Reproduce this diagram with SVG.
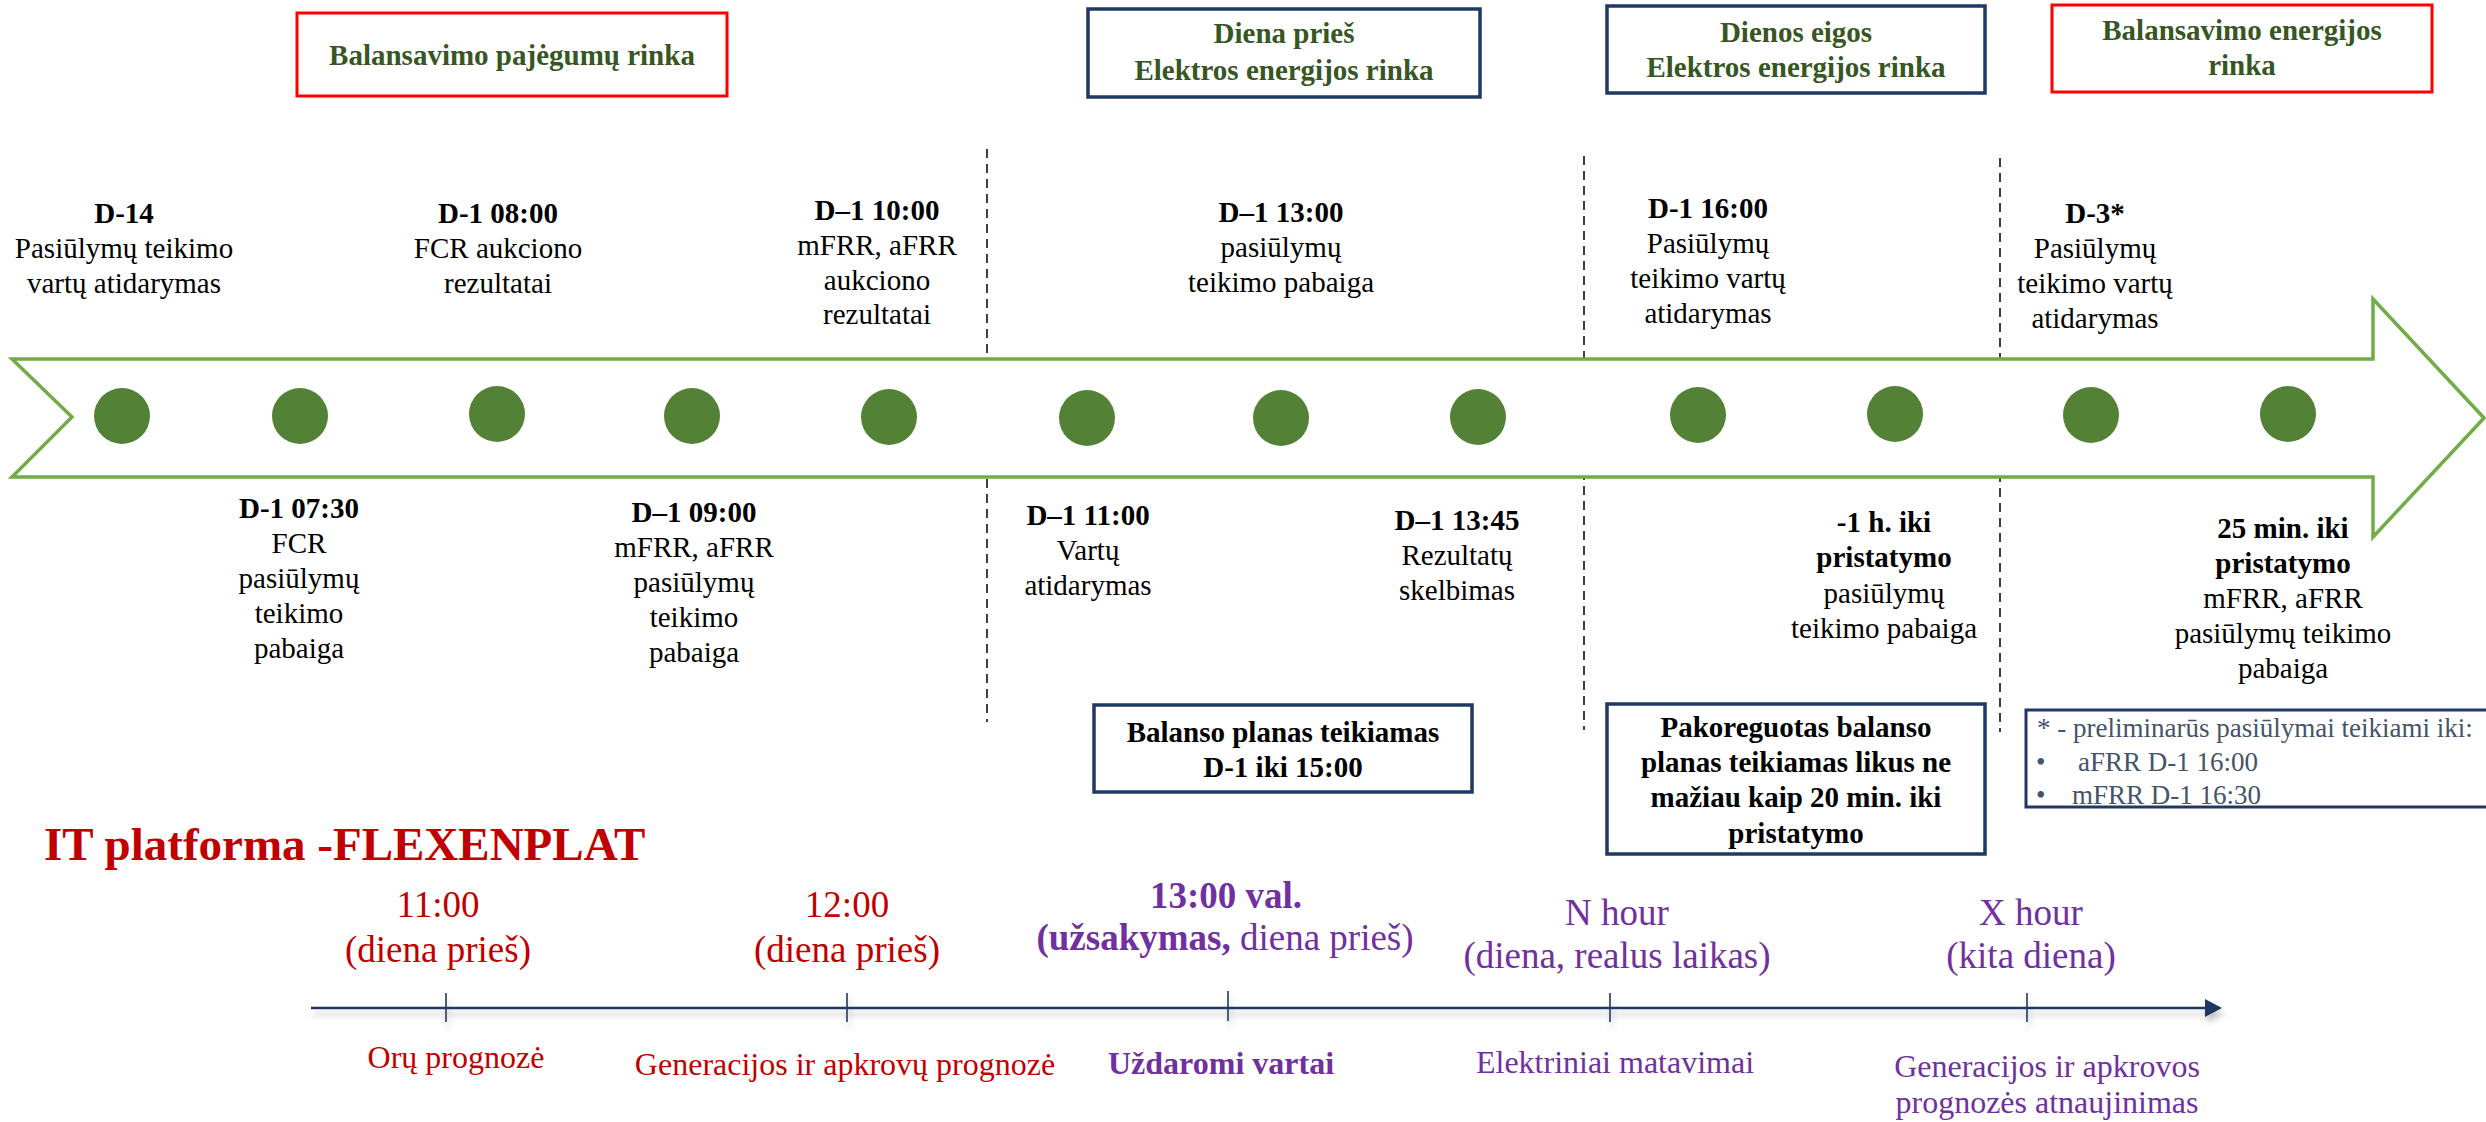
<svg xmlns="http://www.w3.org/2000/svg" width="2486" height="1122" viewBox="0 0 2486 1122">
  <defs>
    <filter id="axisShadow" x="-5%" y="-200%" width="110%" height="500%">
      <feDropShadow dx="2" dy="6" stdDeviation="3" flood-color="#7f7f7f" flood-opacity="0.45"/>
    </filter>
    <style>
      text { font-family: "Liberation Serif", "Times New Roman", serif; }
      .lbl { font-size: 29px; fill: #000; text-anchor: middle; }
      .b { font-weight: bold; }
      .title { font-size: 29px; font-weight: bold; fill: #375623; text-anchor: middle; }
      .boxtxt { font-size: 29px; font-weight: bold; fill: #000; text-anchor: middle; }
      .red-box { fill: #fff; stroke: #ff0000; stroke-width: 3; }
      .navy-box { fill: #fff; stroke: #1f3864; stroke-width: 3.5; }
      .dot { fill: #538135; }
      .divider { stroke: #000; stroke-width: 1.5; stroke-dasharray: 9 6; fill: none; }
      .tick { stroke: #1f3864; stroke-width: 1.6; }
      .tl-red { font-size: 37px; fill: #c00000; text-anchor: middle; }
      .tl-pur { font-size: 37px; fill: #7030a0; text-anchor: middle; }
      .bt-red { font-size: 32px; fill: #c00000; text-anchor: middle; }
      .bt-pur { font-size: 32px; fill: #7030a0; text-anchor: middle; }
      .note { font-size: 27px; fill: #44546a; }
    </style>
  </defs>

  <rect width="2486" height="1122" fill="#ffffff"/>

  <!-- market headers -->
  <g id="box-balancing-capacity">
    <rect class="red-box" x="297" y="13" width="430" height="83"/>
    <text class="title" x="512" y="65">Balansavimo pajėgumų rinka</text>
  </g>
  <g id="box-day-ahead">
    <rect class="navy-box" x="1088" y="9" width="392" height="88"/>
    <text class="title" x="1284" y="43">Diena prieš</text>
    <text class="title" x="1284" y="80">Elektros energijos rinka</text>
  </g>
  <g id="box-intraday">
    <rect class="navy-box" x="1607" y="6" width="378" height="87"/>
    <text class="title" x="1796" y="42">Dienos eigos</text>
    <text class="title" x="1796" y="77">Elektros energijos rinka</text>
  </g>
  <g id="box-balancing-energy">
    <rect class="red-box" x="2052" y="5" width="380" height="87"/>
    <text class="title" x="2242" y="40">Balansavimo energijos</text>
    <text class="title" x="2242" y="75">rinka</text>
  </g>

  <!-- market section dividers -->
  <g id="dividers">
    <line class="divider" x1="987" y1="149" x2="987" y2="722"/>
    <line class="divider" x1="1584" y1="156" x2="1584" y2="730"/>
    <line class="divider" x1="2000" y1="158" x2="2000" y2="732"/>
  </g>

  <!-- main process arrow with milestones -->
  <g id="process-arrow">
    <polygon points="12,359 2373,359 2373,299 2484,418 2373,537 2373,477 12,477 72,417" fill="#ffffff" stroke="#70ad47" stroke-width="3.5" stroke-linejoin="miter"/>
  </g>
  <g id="milestones">
    <circle class="dot" cx="122" cy="416" r="28"/>
    <circle class="dot" cx="300" cy="416" r="28"/>
    <circle class="dot" cx="497" cy="414" r="28"/>
    <circle class="dot" cx="692" cy="416" r="28"/>
    <circle class="dot" cx="889" cy="417" r="28"/>
    <circle class="dot" cx="1087" cy="418" r="28"/>
    <circle class="dot" cx="1281" cy="418" r="28"/>
    <circle class="dot" cx="1478" cy="417" r="28"/>
    <circle class="dot" cx="1698" cy="415" r="28"/>
    <circle class="dot" cx="1895" cy="414" r="28"/>
    <circle class="dot" cx="2091" cy="415" r="28"/>
    <circle class="dot" cx="2288" cy="414" r="28"/>
  </g>

  <!-- milestone labels above the arrow -->
  <g id="label-d14">
    <text class="lbl b" x="124" y="223">D-14</text>
    <text class="lbl" x="124" y="258">Pasiūlymų teikimo</text>
    <text class="lbl" x="124" y="293">vartų atidarymas</text>
  </g>
  <g id="label-0800">
    <text class="lbl b" x="498" y="223">D-1 08:00</text>
    <text class="lbl" x="498" y="258">FCR aukciono</text>
    <text class="lbl" x="498" y="293">rezultatai</text>
  </g>
  <g id="label-1000">
    <text class="lbl b" x="877" y="220">D–1 10:00</text>
    <text class="lbl" x="877" y="255">mFRR, aFRR</text>
    <text class="lbl" x="877" y="290">aukciono</text>
    <text class="lbl" x="877" y="324">rezultatai</text>
  </g>
  <g id="label-1300">
    <text class="lbl b" x="1281" y="222">D–1 13:00</text>
    <text class="lbl" x="1281" y="257">pasiūlymų</text>
    <text class="lbl" x="1281" y="292">teikimo pabaiga</text>
  </g>
  <g id="label-1600">
    <text class="lbl b" x="1708" y="218">D-1 16:00</text>
    <text class="lbl" x="1708" y="253">Pasiūlymų</text>
    <text class="lbl" x="1708" y="288">teikimo vartų</text>
    <text class="lbl" x="1708" y="323">atidarymas</text>
  </g>
  <g id="label-d3">
    <text class="lbl b" x="2095" y="223">D-3*</text>
    <text class="lbl" x="2095" y="258">Pasiūlymų</text>
    <text class="lbl" x="2095" y="293">teikimo vartų</text>
    <text class="lbl" x="2095" y="328">atidarymas</text>
  </g>

  <!-- milestone labels below the arrow -->
  <g id="label-0730">
    <text class="lbl b" x="299" y="518">D-1 07:30</text>
    <text class="lbl" x="299" y="553">FCR</text>
    <text class="lbl" x="299" y="588">pasiūlymų</text>
    <text class="lbl" x="299" y="623">teikimo</text>
    <text class="lbl" x="299" y="658">pabaiga</text>
  </g>
  <g id="label-0900">
    <text class="lbl b" x="694" y="522">D–1 09:00</text>
    <text class="lbl" x="694" y="557">mFRR, aFRR</text>
    <text class="lbl" x="694" y="592">pasiūlymų</text>
    <text class="lbl" x="694" y="627">teikimo</text>
    <text class="lbl" x="694" y="662">pabaiga</text>
  </g>
  <g id="label-1100">
    <text class="lbl b" x="1088" y="525">D–1 11:00</text>
    <text class="lbl" x="1088" y="560">Vartų</text>
    <text class="lbl" x="1088" y="595">atidarymas</text>
  </g>
  <g id="label-1345">
    <text class="lbl b" x="1457" y="530">D–1 13:45</text>
    <text class="lbl" x="1457" y="565">Rezultatų</text>
    <text class="lbl" x="1457" y="600">skelbimas</text>
  </g>
  <g id="label-1h">
    <text class="lbl b" x="1884" y="532">-1 h. iki</text>
    <text class="lbl b" x="1884" y="567">pristatymo</text>
    <text class="lbl" x="1884" y="603">pasiūlymų</text>
    <text class="lbl" x="1884" y="638">teikimo pabaiga</text>
  </g>
  <g id="label-25min">
    <text class="lbl b" x="2283" y="538">25 min. iki</text>
    <text class="lbl b" x="2283" y="573">pristatymo</text>
    <text class="lbl" x="2283" y="608">mFRR, aFRR</text>
    <text class="lbl" x="2283" y="643">pasiūlymų teikimo</text>
    <text class="lbl" x="2283" y="678">pabaiga</text>
  </g>

  <!-- balance plan notes -->
  <g id="box-balance-plan">
    <rect class="navy-box" x="1094" y="705" width="378" height="87"/>
    <text class="boxtxt" x="1283" y="742">Balanso planas teikiamas</text>
    <text class="boxtxt" x="1283" y="777">D-1 iki 15:00</text>
  </g>
  <g id="box-adjusted-plan">
    <rect class="navy-box" x="1607" y="704" width="378" height="150"/>
    <text class="boxtxt" x="1796" y="737">Pakoreguotas balanso</text>
    <text class="boxtxt" x="1796" y="772">planas teikiamas likus ne</text>
    <text class="boxtxt" x="1796" y="807">mažiau kaip 20 min. iki</text>
    <text class="boxtxt" x="1796" y="843">pristatymo</text>
  </g>
  <g id="box-footnote">
    <rect x="2026" y="710" width="480" height="97" fill="#fff" stroke="#1f3864" stroke-width="3"/>
    <text class="note" x="2037" y="737">* - preliminarūs pasiūlymai teikiami iki:</text>
    <text class="note" x="2036" y="771">•</text>
    <text class="note" x="2078" y="771">aFRR D-1 16:00</text>
    <text class="note" x="2036" y="804">•</text>
    <text class="note" x="2072" y="804">mFRR D-1 16:30</text>
  </g>

  <!-- IT platform timeline -->
  <g id="platform-title">
    <text x="44" y="860" font-size="47" font-weight="bold" fill="#c00000">IT platforma -FLEXENPLAT</text>
  </g>
  <g id="connectors" filter="url(#axisShadow)">
    <line x1="311" y1="1008" x2="2208" y2="1008" stroke="#1f3864" stroke-width="2.5"/>
    <polygon points="2205,999 2222,1008 2205,1017" fill="#1f3864"/>
    <line class="tick" x1="446" y1="993" x2="446" y2="1022"/>
    <line class="tick" x1="847" y1="993" x2="847" y2="1022"/>
    <line class="tick" x1="1228" y1="991" x2="1228" y2="1021"/>
    <line class="tick" x1="1610" y1="993" x2="1610" y2="1022"/>
    <line class="tick" x1="2027" y1="993" x2="2027" y2="1022"/>
  </g>

  <g id="step-1100">
    <text class="tl-red" x="438" y="917">11:00</text>
    <text class="tl-red" x="438" y="962">(diena prieš)</text>
    <text class="bt-red" x="456" y="1068">Orų prognozė</text>
  </g>
  <g id="step-1200">
    <text class="tl-red" x="847" y="917">12:00</text>
    <text class="tl-red" x="847" y="962">(diena prieš)</text>
    <text class="bt-red" x="845" y="1075">Generacijos ir apkrovų prognozė</text>
  </g>
  <g id="step-1300">
    <text class="tl-pur b" x="1226" y="908">13:00 val.</text>
    <text class="tl-pur" x="1225" y="950"><tspan font-weight="bold">(užsakymas,</tspan> diena prieš)</text>
    <text class="bt-pur b" x="1221" y="1074">Uždaromi vartai</text>
  </g>
  <g id="step-n-hour">
    <text class="tl-pur" x="1617" y="925">N hour</text>
    <text class="tl-pur" x="1617" y="968">(diena, realus laikas)</text>
    <text class="bt-pur" x="1615" y="1073">Elektriniai matavimai</text>
  </g>
  <g id="step-x-hour">
    <text class="tl-pur" x="2031" y="925">X hour</text>
    <text class="tl-pur" x="2031" y="968">(kita diena)</text>
    <text class="bt-pur" x="2047" y="1077">Generacijos ir apkrovos</text>
    <text class="bt-pur" x="2047" y="1113">prognozės atnaujinimas</text>
  </g>
</svg>
